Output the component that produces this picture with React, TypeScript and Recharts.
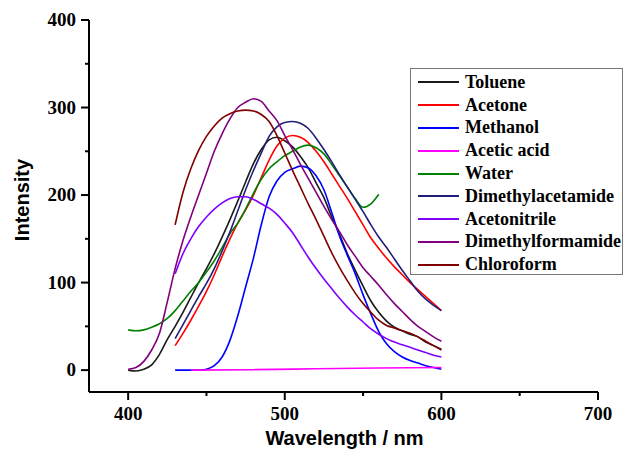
import { LineChart, Line, XAxis, YAxis } from 'recharts';

// wavelength grids (nm)
const wl400 = [400, 405, 410, 415, 420, 425, 430, 435, 440, 445, 450, 455, 460, 465, 470, 475, 480, 485, 490, 495, 500, 505, 510, 515, 520, 525, 530, 535, 540, 545, 550, 555, 560, 565, 570, 575, 580, 585, 590, 595, 600];
const wl430 = [430, 435, 440, 445, 450, 455, 460, 465, 470, 475, 480, 485, 490, 495, 500, 505, 510, 515, 520, 525, 530, 535, 540, 545, 550, 555, 560, 565, 570, 575, 580, 585, 590, 595, 600];
const wlWater = [400, 405, 410, 415, 420, 425, 430, 435, 440, 445, 450, 455, 460, 465, 470, 475, 480, 485, 490, 495, 500, 505, 510, 515, 520, 525, 530, 535, 540, 545, 550, 555, 560];
const wlAcetic = [440, 480, 520, 560, 600];

// intensities
const toluene = [0, -1, 1, 6, 18, 35, 50, 66, 83, 100, 116, 133, 152, 172, 193, 215, 236, 252, 263, 266, 262, 255, 244, 231, 214, 197, 175, 155, 133, 114, 96, 79, 66, 56, 49, 45, 41, 38, 32, 28, 24];
const acetone = [28, 42, 57, 73, 90, 109, 130, 150, 168, 183, 200, 220, 240, 256, 265, 268, 266, 260, 250, 238, 224, 210, 196, 181, 166, 151, 139, 128, 118, 109, 100, 92, 84, 76, 68];
const methanol = [0, 0, 0, 0, 1, 5, 15, 34, 62, 95, 128, 166, 198, 216, 226, 230, 233, 231, 222, 206, 180, 153, 131, 110, 86, 64, 44, 30, 21, 15, 11, 8, 5, 3, 1];
const aceticAcid = [0, 0.5, 1.5, 2.5, 3];
const water = [46, 45, 46, 49, 53, 59, 68, 79, 90, 100, 112, 125, 140, 156, 168, 184, 202, 218, 230, 238, 245, 250, 255, 257, 254, 247, 235, 222, 209, 196, 186, 190, 201];
const dmac = [36, 52, 68, 84, 99, 116, 136, 158, 182, 206, 228, 248, 267, 278, 283, 284, 282, 276, 265, 252, 238, 223, 209, 195, 181, 166, 152, 140, 127, 114, 102, 90, 81, 74, 68];
const acetonitrile = [110, 133, 150, 164, 175, 184, 191, 196, 198, 198, 195, 190, 185, 178, 168, 157, 143, 129, 116, 104, 93, 82, 72, 63, 55, 47, 41, 36, 32, 29, 26, 23, 20, 17, 15];
const dmf = [1, 3, 10, 23, 42, 78, 116, 148, 175, 200, 225, 250, 270, 287, 300, 306, 310, 307, 296, 285, 268, 252, 235, 219, 203, 187, 172, 158, 143, 130, 117, 107, 97, 86, 76, 67, 58, 50, 44, 38, 33];
const chloroform = [166, 203, 230, 251, 267, 279, 288, 293, 296, 297, 296, 292, 284, 268, 248, 228, 209, 190, 172, 153, 134, 117, 102, 88, 76, 66, 57, 51, 48, 45, 42, 38, 33, 28, 23];

const xTicks = [400, 450, 500, 550, 600, 650, 700];
const yTicks = [0, 50, 100, 150, 200, 250, 300, 350, 400];

const series = [
  { name: 'Toluene', color: '#1a1a1a', wl: wl400, val: toluene },
  { name: 'Acetone', color: '#ff0000', wl: wl430, val: acetone },
  { name: 'Methanol', color: '#0000ff', wl: wl430, val: methanol },
  { name: 'Acetic acid', color: '#ff00ff', wl: wlAcetic, val: aceticAcid },
  { name: 'Water', color: '#008000', wl: wlWater, val: water },
  { name: 'Dimethylacetamide', color: '#1f1f7a', wl: wl430, val: dmac },
  { name: 'Acetonitrile', color: '#8000ff', wl: wl430, val: acetonitrile },
  { name: 'Dimethylformamide', color: '#800080', wl: wl400, val: dmf },
  { name: 'Chloroform', color: '#800000', wl: wl430, val: chloroform },
];

const toPoints = (xs: number[], ys: number[]) => xs.map((x, i) => ({ x, y: ys[i] }));

const tickFont = { fontFamily: 'Liberation Serif', fontWeight: 'bold', fontSize: 19, fill: '#000' };
const titleFont = { fontFamily: 'Liberation Sans', fontWeight: 'bold', fontSize: 20, fill: '#000' };

const XTick = (props: any) => {
  const { x, y, payload } = props;
  const major = payload.value % 100 === 0;
  return (
    <g>
      <line x1={x} y1={y} x2={x} y2={y + (major ? 8 : 4)} stroke="#000" strokeWidth={2} />
      {major && (
        <text x={x} y={y + 28} textAnchor="middle" {...tickFont}>
          {payload.value}
        </text>
      )}
    </g>
  );
};

const YTick = (props: any) => {
  const { x, y, payload } = props;
  const major = payload.value % 100 === 0;
  return (
    <g>
      <line x1={x} y1={y} x2={x - (major ? 8 : 4)} y2={y} stroke="#000" strokeWidth={2} />
      {major && (
        <text x={x - 13} y={y + 6} textAnchor="end" {...tickFont}>
          {payload.value}
        </text>
      )}
    </g>
  );
};

const XTitle = (props: any) => {
  const { viewBox } = props;
  return (
    <text x={viewBox.x + viewBox.width / 2 + 1} y={445} textAnchor="middle" {...titleFont}>
      Wavelength / nm
    </text>
  );
};

const YTitle = (props: any) => {
  const { viewBox } = props;
  const cy = viewBox.y + viewBox.height / 2 - 6;
  return (
    <text x={22} y={cy} textAnchor="middle" dominantBaseline="central" transform={`rotate(-90 22 ${cy})`} {...titleFont}>
      Intensity
    </text>
  );
};

const LegendBox = () => (
  <div
    style={{
      position: 'absolute',
      left: 410,
      top: 68,
      width: 213,
      height: 207,
      boxSizing: 'border-box',
      border: '1px solid #777',
      background: '#fff',
      paddingTop: 2,
    }}
  >
    {series.map((s) => (
      <div key={s.name} style={{ display: 'flex', alignItems: 'center', height: 22.8 }}>
        <div style={{ width: 41, height: 0, borderTop: `2px solid ${s.color}`, marginLeft: 7, marginRight: 6 }} />
        <span style={{ fontFamily: 'Liberation Serif', fontWeight: 'bold', fontSize: 18, color: '#000', whiteSpace: 'nowrap' }}>
          {s.name}
        </span>
      </div>
    ))}
  </div>
);

export default function App() {
  return (
    <div style={{ position: 'fixed', left: 0, top: 0, width: 626, height: 452, background: '#fff' }}>
      <LineChart width={626} height={452} margin={{ top: 20, right: 28, left: 29, bottom: 20 }}>
        <XAxis
          type="number"
          dataKey="x"
          domain={[375, 700]}
          ticks={xTicks}
          allowDataOverflow
          height={40}
          axisLine={{ stroke: '#000', strokeWidth: 2 }}
          tickLine={false}
          tickSize={0}
          tickMargin={0}
          tick={<XTick />}
          label={<XTitle />}
        />
        <YAxis
          type="number"
          domain={[-25, 400]}
          ticks={yTicks}
          allowDataOverflow
          width={60}
          axisLine={{ stroke: '#000', strokeWidth: 2 }}
          tickLine={false}
          tickSize={0}
          tickMargin={0}
          tick={<YTick />}
          label={<YTitle />}
        />
        {series.map((s) => (
          <Line
            key={s.name}
            name={s.name}
            data={toPoints(s.wl, s.val)}
            dataKey="y"
            type="monotone"
            stroke={s.color}
            strokeWidth={1.6}
            dot={false}
            isAnimationActive={false}
          />
        ))}
      </LineChart>
      <LegendBox />
    </div>
  );
}
